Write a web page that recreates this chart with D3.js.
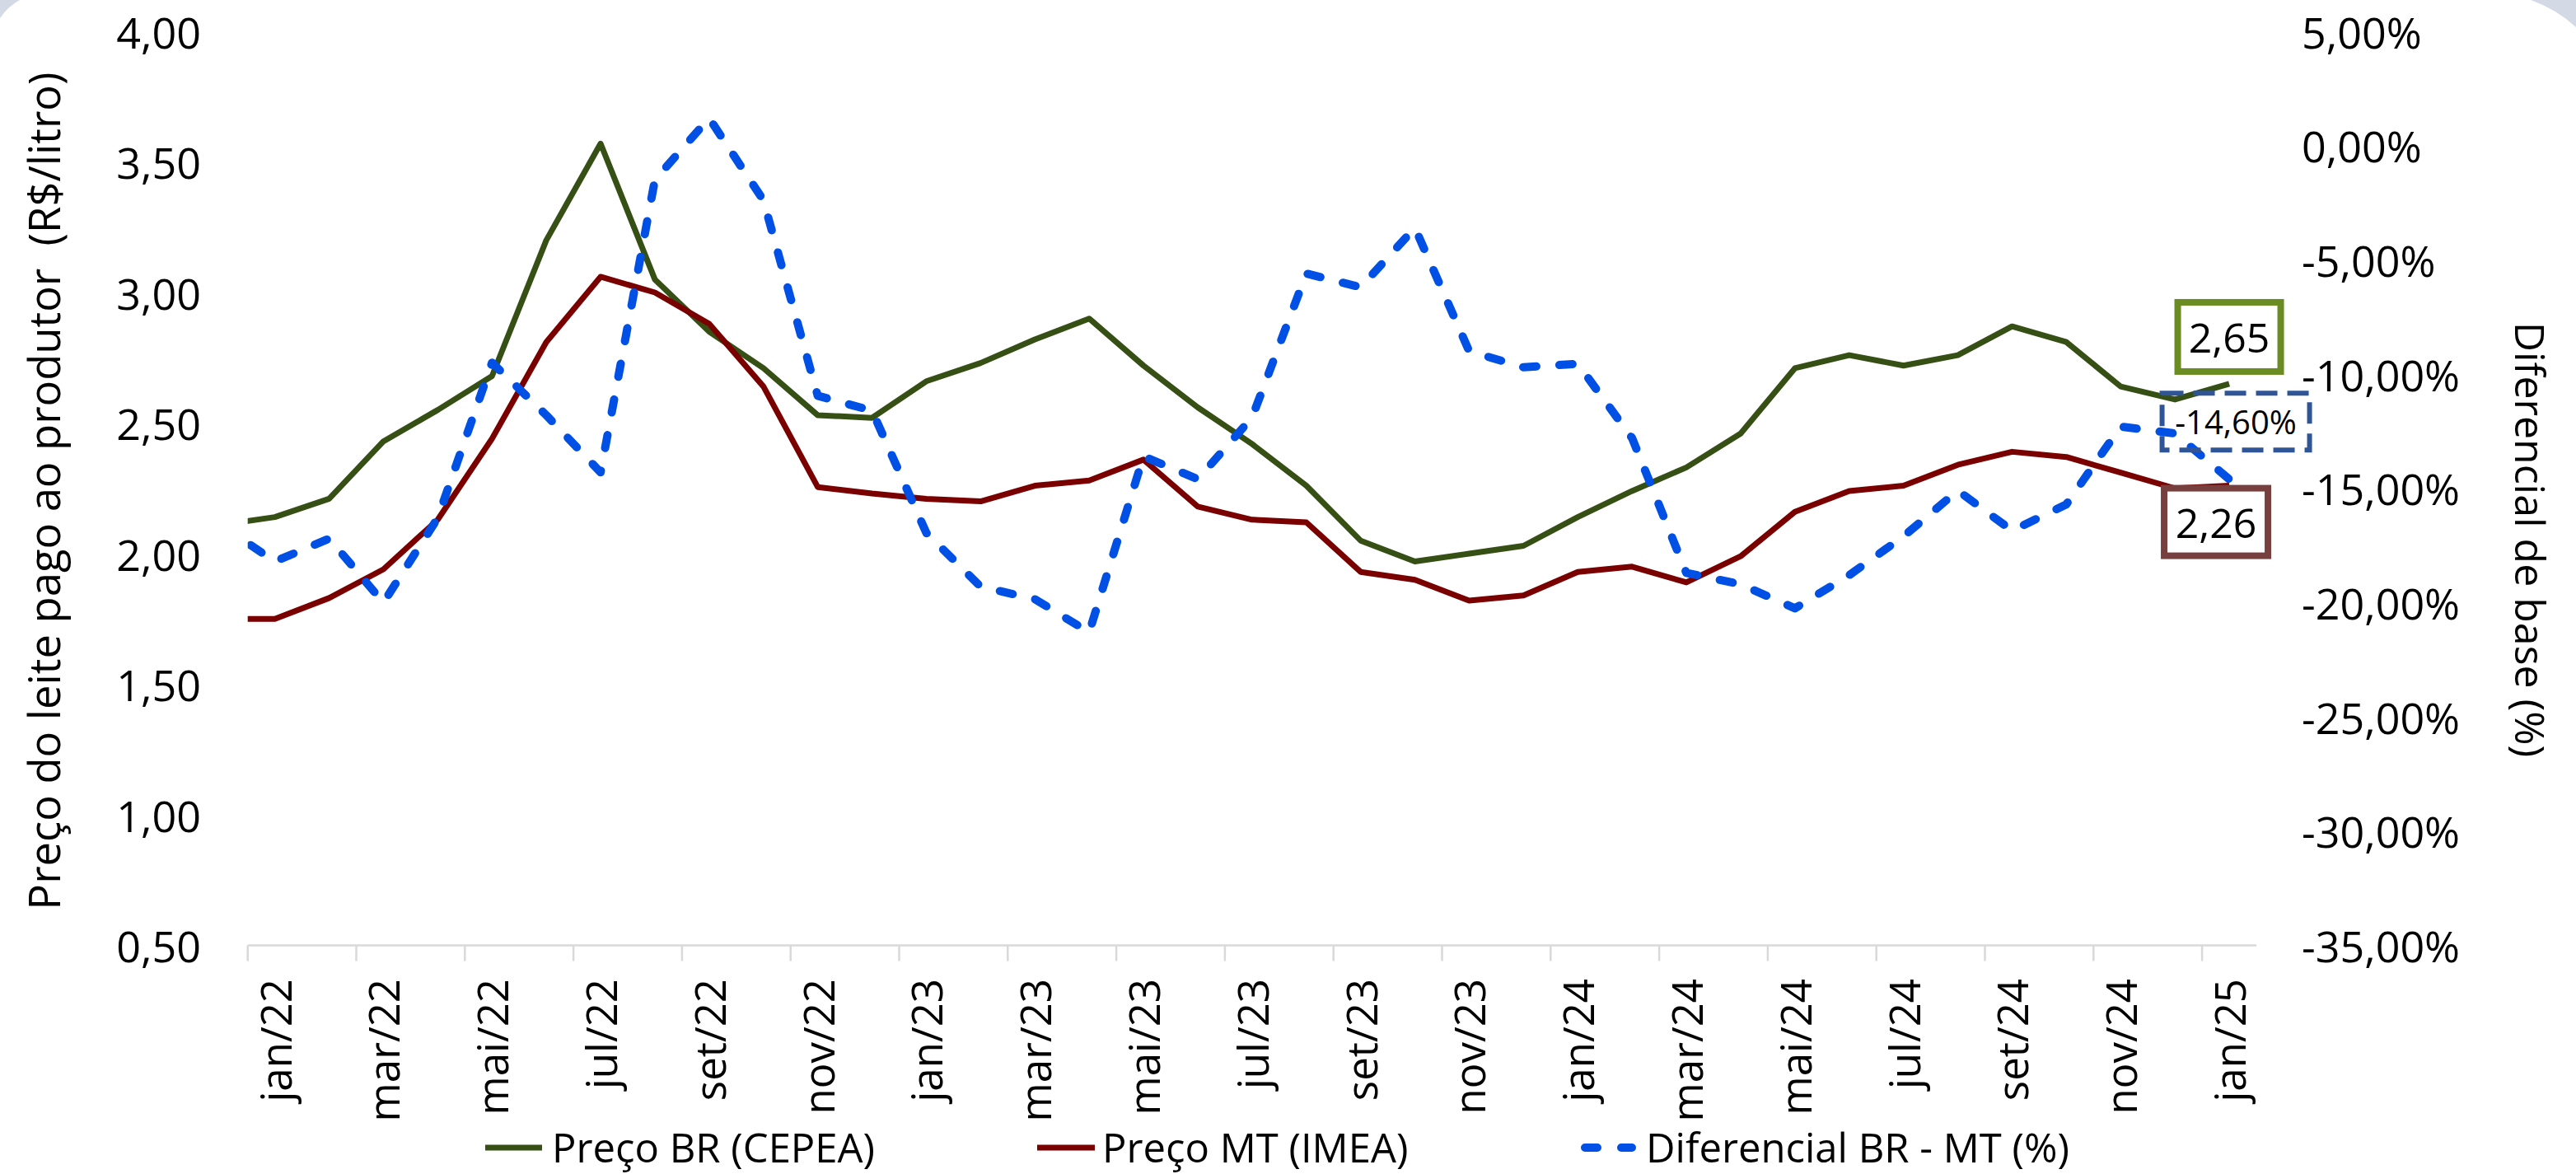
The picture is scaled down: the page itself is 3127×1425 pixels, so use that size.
<!DOCTYPE html>
<html>
<head>
<meta charset="utf-8">
<script src="https://cdn.jsdelivr.net/npm/d3@7"></script>
<style>
  html, body { margin: 0; padding: 0; background: #fff; }
  svg { display: block; font-family: "Open Sans", sans-serif; }
</style>
</head>
<body>
<svg id="chart" width="3127" height="1425"></svg>
<script>
// months shown on the date axis (dez/21 is only visible as the clipped first segment)
const months = [
  "dez/21",
  "jan/22", "fev/22", "mar/22", "abr/22", "mai/22", "jun/22", "jul/22", "ago/22", "set/22", "out/22", "nov/22", "dez/22",
  "jan/23", "fev/23", "mar/23", "abr/23", "mai/23", "jun/23", "jul/23", "ago/23", "set/23", "out/23", "nov/23", "dez/23",
  "jan/24", "fev/24", "mar/24", "abr/24", "mai/24", "jun/24", "jul/24", "ago/24", "set/24", "out/24", "nov/24", "dez/24",
  "jan/25"
];

// Preço BR (CEPEA), R$/litro
const precoBR = [
  2.11,
  2.14, 2.21, 2.43, 2.55, 2.68, 3.20, 3.57, 3.05, 2.85, 2.71, 2.53, 2.52,
  2.66, 2.73, 2.82, 2.90, 2.72, 2.56, 2.42, 2.26, 2.05, 1.97, 2.00, 2.03,
  2.14, 2.24, 2.33, 2.46, 2.71, 2.76, 2.72, 2.76, 2.87, 2.81, 2.64, 2.59,
  2.65
];

// Preço MT (IMEA), R$/litro
const precoMT = [
  1.75,
  1.75, 1.83, 1.94, 2.13, 2.44, 2.81, 3.06, 3.00, 2.88, 2.64, 2.255, 2.23,
  2.21, 2.20, 2.26, 2.28, 2.36, 2.18, 2.13, 2.12, 1.93, 1.90, 1.82, 1.84,
  1.93, 1.95, 1.89, 1.99, 2.16, 2.24, 2.26, 2.34, 2.39, 2.37, 2.31, 2.25,
  2.26
];

// Diferencial BR - MT (%)
const diferencial = [
  -16.6,
  -18.2, -17.2, -20.0, -16.3, -9.5, -11.8, -14.3, -1.5, 1.2, -2.4, -10.95, -11.6,
  -16.95, -19.3, -19.85, -21.3, -13.6, -14.6, -11.9, -5.6, -6.2, -3.6, -9.0, -9.7,
  -9.55, -12.8, -18.7, -19.2, -20.25, -18.8, -17.1, -15.1, -16.85, -15.7, -12.3, -12.6,
  -14.6
];

const leftTicks = [0.5, 1.0, 1.5, 2.0, 2.5, 3.0, 3.5, 4.0];
const rightTicks = [5, 0, -5, -10, -15, -20, -25, -30, -35];
const firstVisible = 1; // jan/22
const labelEvery = 2;

const seriesInfo = [
  { name: "Preço BR (CEPEA)", values: precoBR, color: "#364F14", axis: "left" },
  { name: "Preço MT (IMEA)", values: precoMT, color: "#7A0000", axis: "left" },
  { name: "Diferencial BR - MT (%)", values: diferencial, color: "#0050E6", axis: "right", dashed: true }
];

const ptBR = d3.formatLocale({ decimal: ",", thousands: ".", grouping: [3], currency: ["R$", ""], minus: "-" });
const fmtNum = ptBR.format(".2f");
const fmtPct = v => ptBR.format(".2f")(v) + "%";

const svg = d3.select("#chart");
const W = 3127, H = 1425;
const plot = { left: 300.7, right: 2739, top: 38, bottom: 1147.5 };

// background corners
svg.append("rect").attr("width", W).attr("height", H).attr("fill", "#fff");
svg.append("path").attr("d", "M0,0 L0,22 A70,70 0 0 1 24,0 Z").attr("fill", "#D3DAE5");
svg.append("path").attr("d", `M${W},0 L3072,0 A160,160 0 0 1 ${W},33 Z`).attr("fill", "#D3DAE5");

const x = d3.scaleLinear()
  .domain([firstVisible - 0.5, months.length - 0.5])
  .range([plot.left, plot.right]);
const yL = d3.scaleLinear().domain([0.5, 4.0]).range([plot.bottom, plot.top]);
const yR = d3.scaleLinear().domain([-35, 5]).range([plot.bottom, plot.top]);

// clip for the date axis
svg.append("defs").append("clipPath").attr("id", "plotClip")
  .append("rect")
  .attr("x", plot.left).attr("y", 0)
  .attr("width", plot.right - plot.left).attr("height", H);

// x axis line and tick marks (between categories, every 2 months)
const axisG = svg.append("g");
axisG.append("line")
  .attr("x1", plot.left).attr("x2", plot.right)
  .attr("y1", plot.bottom).attr("y2", plot.bottom)
  .attr("stroke", "#D9D9D9").attr("stroke-width", 2.5);
const tickIdx = d3.range(firstVisible, months.length, labelEvery);
axisG.selectAll("line.tick").data(tickIdx).join("line")
  .attr("class", "tick")
  .attr("x1", d => x(d - 0.5)).attr("x2", d => x(d - 0.5))
  .attr("y1", plot.bottom).attr("y2", plot.bottom + 19)
  .attr("stroke", "#D9D9D9").attr("stroke-width", 2.5);

// x labels, rotated
axisG.selectAll("text.xlab").data(tickIdx).join("text")
  .attr("class", "xlab")
  .attr("transform", d => `translate(${x(d)},1188) rotate(-90)`)
  .attr("text-anchor", "end")
  .attr("dominant-baseline", "central")
  .attr("font-size", 51)
  .attr("fill", "#000")
  .text(d => months[d]);

// left y labels
svg.append("g").selectAll("text").data(leftTicks).join("text")
  .attr("x", 244).attr("y", d => yL(d))
  .attr("text-anchor", "end")
  .attr("dominant-baseline", "central")
  .attr("font-size", 52)
  .text(d => fmtNum(d));

// right y labels
svg.append("g").selectAll("text").data(rightTicks).join("text")
  .attr("x", 2794).attr("y", d => yR(d))
  .attr("text-anchor", "start")
  .attr("dominant-baseline", "central")
  .attr("font-size", 52)
  .text(d => fmtPct(d));

// axis titles
svg.append("text")
  .attr("transform", "translate(52,596) rotate(-90)")
  .attr("text-anchor", "middle")
  .attr("dominant-baseline", "central")
  .attr("font-size", 52.5)
  .style("white-space", "pre")
  .text("Preço do leite pago ao produtor  (R$/litro)");

svg.append("text")
  .attr("transform", "translate(3072,655) rotate(90)")
  .attr("text-anchor", "middle")
  .attr("dominant-baseline", "central")
  .attr("font-size", 50)
  .text("Diferencial de base (%)");

// series lines
const linesG = svg.append("g").attr("clip-path", "url(#plotClip)");
seriesInfo.forEach(s => {
  const yS = s.axis === "left" ? yL : yR;
  const line = d3.line()
    .x((d, i) => x(i))
    .y(d => yS(d));
  const p = linesG.append("path")
    .datum(s.values)
    .attr("d", line)
    .attr("fill", "none")
    .attr("stroke", s.color)
    .attr("stroke-linejoin", "round");
  if (s.dashed) {
    p.attr("stroke-width", 10)
      .attr("stroke-dasharray", "16,28")
      .attr("stroke-linecap", "round");
  } else {
    p.attr("stroke-width", 7);
  }
});

// data labels on the last point
const last = months.length - 1;
const lx = x(last);
function boxLabel(cx, cy, w, h, text, stroke, fontSize, dashed, fill) {
  const g = svg.append("g");
  g.append("rect")
    .attr("x", cx - w / 2).attr("y", cy - h / 2)
    .attr("width", w).attr("height", h)
    .attr("fill", fill)
    .attr("stroke", stroke)
    .attr("stroke-width", dashed ? 6 : 8)
    .attr("stroke-dasharray", dashed ? "26,12" : null);
  g.append("text")
    .attr("x", cx).attr("y", cy)
    .attr("text-anchor", "middle")
    .attr("dominant-baseline", "central")
    .attr("font-size", fontSize)
    .text(text);
}
boxLabel(lx, yL(precoBR[last]) - 57, 125, 84, fmtNum(precoBR[last]), "#6A8C22", 50, false, "#fff");
boxLabel(lx - 16, yL(precoMT[last]) + 44, 126, 82, fmtNum(precoMT[last]), "#783F3F", 50, false, "#fff");
boxLabel(lx + 8, yR(diferencial[last]) - 70, 179, 69, fmtPct(diferencial[last]), "#2F5597", 40, true, "none");

// legend
const legend = [
  { s: seriesInfo[0], x1: 589, x2: 658, tx: 670 },
  { s: seriesInfo[1], x1: 1259, x2: 1329, tx: 1338 },
  { s: seriesInfo[2], x1: 1924, x2: 1981, tx: 1998 }
];
const legG = svg.append("g");
legend.forEach(l => {
  const ln = legG.append("line")
    .attr("x1", l.x1).attr("x2", l.x2)
    .attr("y1", 1393).attr("y2", 1393)
    .attr("stroke", l.s.color);
  if (l.s.dashed) {
    ln.attr("stroke-width", 10).attr("stroke-dasharray", "15,29").attr("stroke-linecap", "round");
  } else {
    ln.attr("stroke-width", 7);
  }
  legG.append("text")
    .attr("x", l.tx).attr("y", 1392)
    .attr("dominant-baseline", "central")
    .attr("font-size", 49)
    .text(l.s.name);
});
</script>
</body>
</html>
